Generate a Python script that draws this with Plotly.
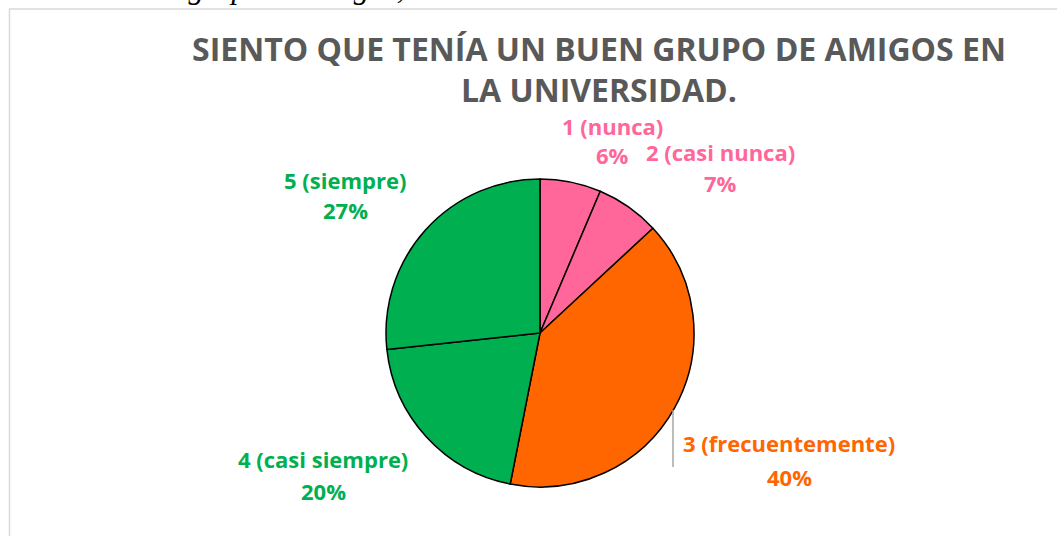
import plotly.graph_objects as go

categories = ["1 (nunca)", "2 (casi nunca)", "3 (frecuentemente)", "4 (casi siempre)", "5 (siempre)"]
values = [6.4, 6.7, 40.0, 20.2, 26.7]
colors = ["#FF6699", "#FF6699", "#FF6600", "#00B050", "#00B050"]
title_lines = ["SIENTO QUE TENÍA UN BUEN GRUPO DE AMIGOS EN", "LA UNIVERSIDAD."]
caption = "Valoración del grupo de amigos, 2.5?"

W, H = 1057, 536
# label placement (px): centre x, name-line centre y, percent-line centre y
label_pos = [(612, 126, 155), (720, 152, 183), (789, 443, 477), (323, 459, 491), (345, 180, 210)]


def px(x):
    return x / W


def py(y):
    return 1 - y / H


fig = go.Figure(
    go.Pie(
        labels=categories,
        values=values,
        sort=False,
        direction="clockwise",
        rotation=0,
        marker=dict(colors=colors, line=dict(color="#000000", width=1.5)),
        textinfo="none",
        hoverinfo="skip",
        showlegend=False,
        domain=dict(x=[px(386), px(694)], y=[py(487), py(179)]),
    )
)

annotations = []
total = sum(values)
for cat, v, col, (cx, y1, y2) in zip(categories, values, colors, label_pos):
    for txt, yy in ((cat, y1), (f"{round(v / total * 100)}%", y2)):
        annotations.append(dict(
            text=f"<b>{txt}</b>", x=px(cx), y=py(yy), xref="paper", yref="paper",
            xanchor="center", yanchor="middle", showarrow=False,
            font=dict(family="Open Sans", size=22, color=col),
        ))

for line, yy in zip(title_lines, (48, 90)):
    annotations.append(dict(
        text=f"<b>{line}</b>", x=px(599), y=py(yy), xref="paper", yref="paper",
        xanchor="center", yanchor="middle", showarrow=False,
        font=dict(family="Open Sans", size=32, color="#595959"),
    ))

annotations.append(dict(
    text=f"<i>{caption}</i>", x=px(-3), y=py(7), xref="paper", yref="paper",
    xanchor="left", yanchor="bottom", showarrow=False,
    font=dict(family="Liberation Serif", size=31, color="#000"),
))

shapes = [
    dict(type="rect", xref="paper", yref="paper", x0=px(9.5), x1=px(1300), y0=py(700), y1=py(9),
         line=dict(color="#D9D9D9", width=1.5), fillcolor="rgba(0,0,0,0)", layer="below"),
    dict(type="line", xref="paper", yref="paper", x0=px(673), x1=px(673), y0=py(410), y1=py(467),
         line=dict(color="#A6A6A6", width=1.5)),
]

fig.update_layout(
    width=W, height=H,
    margin=dict(l=0, r=0, t=0, b=0),
    paper_bgcolor="white", plot_bgcolor="white",
    annotations=annotations, shapes=shapes,
)

fig.write_html("out.html", config={"displayModeBar": False},
               post_script="document.body.style.margin='0';")
